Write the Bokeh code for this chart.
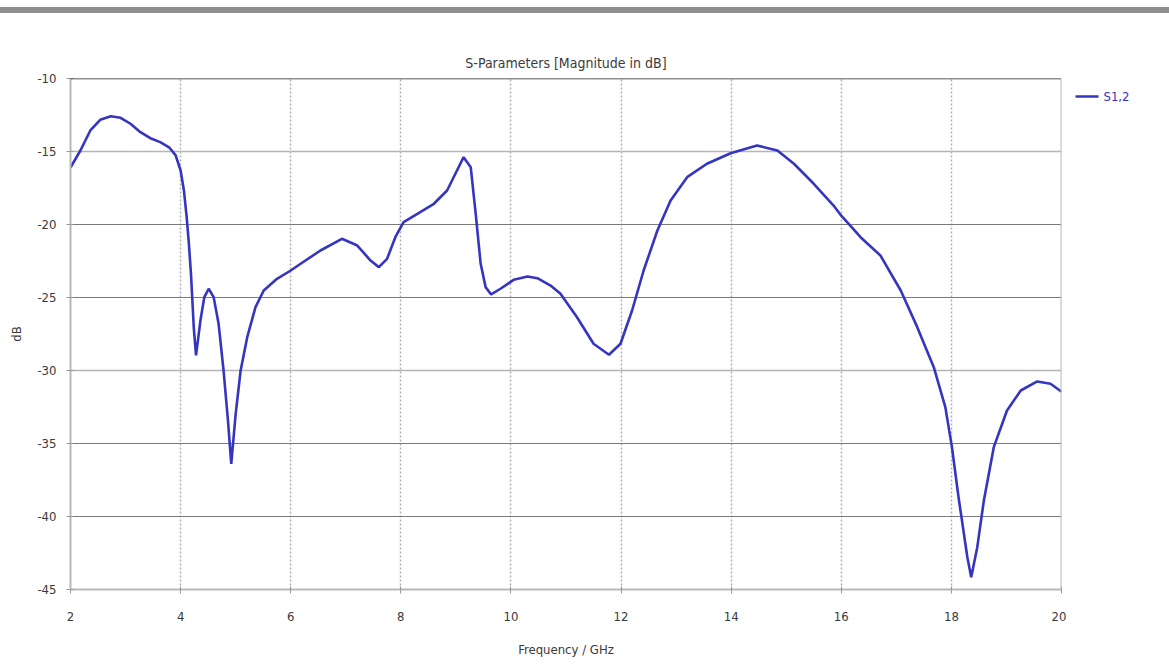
from bokeh.plotting import figure
from bokeh.models import Div, FixedTicker, Range1d, Grid, Span
from bokeh.layouts import column, row
from bokeh.embed import file_html
from bokeh.resources import INLINE
from bokeh.core.properties import value

freq_ghz = [2.0, 2.18, 2.36, 2.54, 2.73, 2.91, 3.09, 3.27, 3.45, 3.63, 3.79, 3.91, 4.00, 4.06, 4.11,
            4.15, 4.19, 4.24, 4.28, 4.36, 4.43, 4.51, 4.60, 4.69, 4.78, 4.86, 4.92, 5.00, 5.09,
            5.21, 5.36, 5.51, 5.75, 6.00, 6.18, 6.54, 6.93, 7.21, 7.45, 7.60, 7.75, 7.90, 8.05,
            8.30, 8.60, 8.84, 9.02, 9.14, 9.27, 9.36, 9.45, 9.54, 9.64, 9.81, 10.05, 10.30, 10.48,
            10.72, 10.90, 11.20, 11.50, 11.78, 11.99, 12.20, 12.41, 12.66, 12.90, 13.20, 13.56,
            13.99, 14.47, 14.84, 15.14, 15.50, 15.86, 16.00, 16.35, 16.71, 17.08, 17.38, 17.68,
            17.89, 18.01, 18.13, 18.29, 18.36, 18.47, 18.59, 18.77, 19.01, 19.26, 19.56, 19.80,
            19.97, 20.0]
s12_db = [-16.1, -14.93, -13.56, -12.83, -12.58, -12.69, -13.10, -13.68, -14.09, -14.36, -14.71, -15.27,
          -16.30, -17.67, -19.50, -21.30, -23.49, -27.12, -28.97, -26.58, -24.98, -24.40, -24.98, -26.80,
          -30.0, -33.42, -36.39, -32.97, -30.0, -27.72, -25.66, -24.52, -23.72, -23.15, -22.69, -21.78,
          -20.98, -21.44, -22.47, -22.92, -22.35, -20.87, -19.84, -19.27, -18.58, -17.67, -16.30, -15.39,
          -16.08, -19.27, -22.69, -24.29, -24.79, -24.40, -23.79, -23.56, -23.68, -24.18, -24.75, -26.35,
          -28.17, -28.92, -28.17, -25.89, -23.15, -20.41, -18.36, -16.76, -15.84, -15.12, -14.59, -14.93,
          -15.84, -17.21, -18.70, -19.40, -20.87, -22.12, -24.52, -27.03, -29.77, -32.51, -35.25, -38.68,
          -42.79, -44.16, -42.10, -38.90, -35.25, -32.74, -31.37, -30.75, -30.91, -31.37, -31.45]
series_name = "S1,2"
x_ticks = [2, 4, 6, 8, 10, 12, 14, 16, 18, 20]
y_ticks = [-10, -15, -20, -25, -30, -35, -40, -45]
y_grid_dark = [-20, -25, -35, -40]
y_grid_light = [-15, -30]
x_grid = [4, 6, 8, 10, 12, 14, 16, 18]

FONT = "DejaVu Sans Condensed"
TXT = "#3a3a3a"
LINE = "#3535c0"

bar = Div(text="", width=1169, height=6, margin=(7, 0, 0, 0),
          styles={"background-color": "#8f8f8f"})

p = figure(width=1066, height=653, output_backend="svg", toolbar_location=None,
           x_range=Range1d(2, 20), y_range=Range1d(-45, -10),
           min_border_left=70, min_border_right=5, min_border_top=65, min_border_bottom=77,
           title="S-Parameters [Magnitude in dB]")
p.title.align = "center"
p.title.text_font = FONT
p.title.text_font_size = "14px"
p.title.text_font_style = "normal"
p.title.text_color = TXT
p.title.standoff = 16

r = p.line(freq_ghz, s12_db, line_color=LINE, line_width=2.6)

p.xaxis.ticker = FixedTicker(ticks=x_ticks)
p.yaxis.ticker = FixedTicker(ticks=y_ticks)
p.yaxis.major_label_overrides = {v: str(v) for v in y_ticks}
p.xaxis.axis_label = "Frequency / GHz"
p.yaxis.axis_label = "dB"
for ax in (p.xaxis[0], p.yaxis[0]):
    ax.axis_label_text_font = FONT
    ax.axis_label_text_font_size = "13px"
    ax.axis_label_text_font_style = "normal"
    ax.axis_label_text_color = TXT
    ax.major_label_text_font = FONT
    ax.major_label_text_font_size = "13px"
    ax.major_label_text_color = TXT
    ax.axis_line_color = "#b8b8b8"
    ax.axis_line_width = 2
    ax.major_tick_line_color = "#999999"
    ax.minor_tick_line_color = None
    ax.major_tick_in = 3
    ax.major_tick_out = 4
p.xaxis.axis_label_standoff = 18
p.xaxis.major_label_standoff = 18
p.yaxis.major_label_standoff = 10
p.yaxis.axis_label_standoff = 10

p.xgrid.visible = False
p.ygrid.visible = False
p.add_layout(Grid(dimension=0, ticker=FixedTicker(ticks=x_grid), grid_line_color="#b0b0b0",
                  grid_line_dash="2 2", grid_line_width=1.5))
p.add_layout(Grid(dimension=1, ticker=FixedTicker(ticks=y_grid_dark), grid_line_color="#7a7a7a",
                  grid_line_width=1))
p.add_layout(Grid(dimension=1, ticker=FixedTicker(ticks=y_grid_light), grid_line_color="#b5b5b5",
                  grid_line_width=1.5))
p.outline_line_color = None
p.add_layout(Span(location=-10, dimension="width", line_color="#222222", line_width=1.5))
p.add_layout(Span(location=20, dimension="height", line_color="#b8b8b8", line_width=2))

# legend panel
lg = figure(width=103, height=653, output_backend="svg", toolbar_location=None,
            x_range=Range1d(0, 103), y_range=Range1d(653, 0),
            min_border=0, outline_line_color=None)
lg.axis.visible = False
lg.grid.visible = False
lg.line([9, 32], [23, 23], line_color=LINE, line_width=2.6)
lg.text([37], [23], text=[series_name], text_font=value(FONT), text_font_size="13px",
        text_color=LINE, text_baseline="middle", text_align="left")

layout = column(bar, row(p, lg, spacing=0), spacing=0)
open("out.html", "w").write(file_html(layout, INLINE))
